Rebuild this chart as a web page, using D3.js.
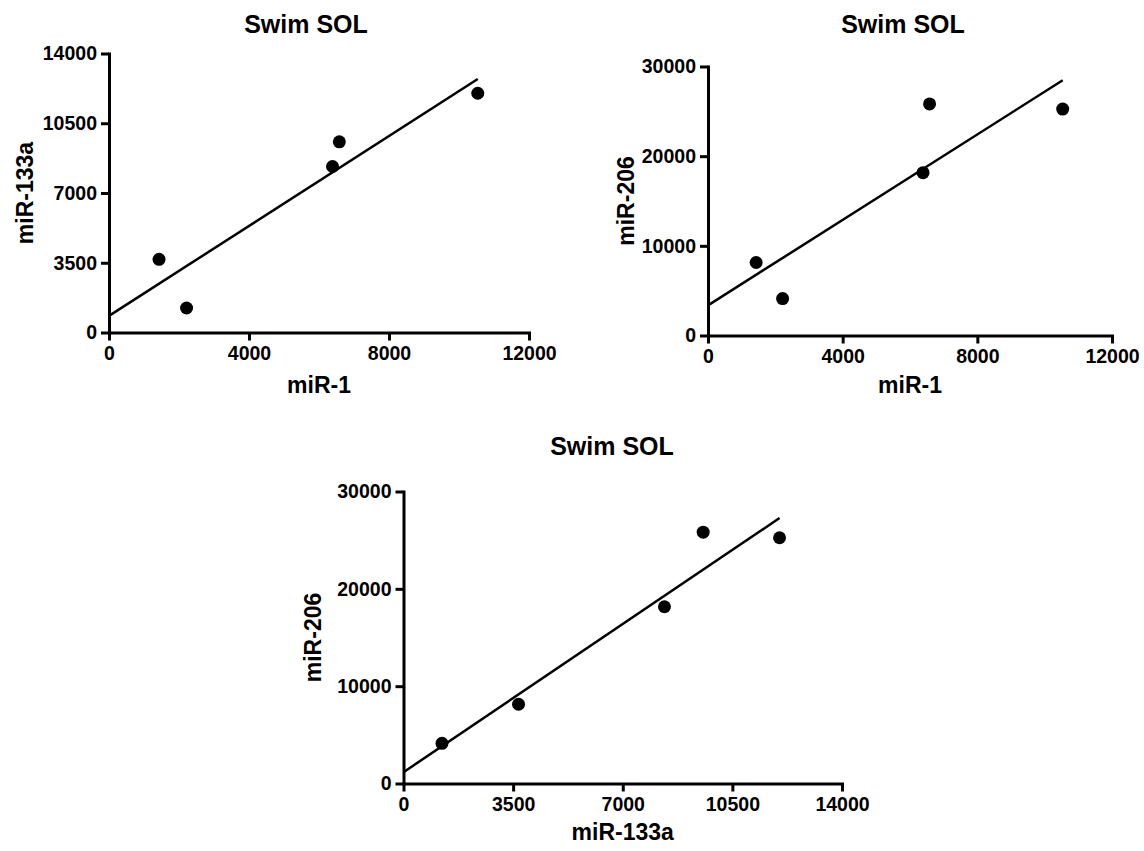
<!DOCTYPE html>
<html>
<head>
<meta charset="utf-8">
<script src="https://cdn.jsdelivr.net/npm/d3@7"></script>
<style>
  body { margin: 0; background: #fff; }
  svg { display: block; }
  text { font-family: "Liberation Sans", Arial, Helvetica, sans-serif; font-weight: bold; fill: #000; }
</style>
</head>
<body>
<div id="canvas"></div>
<script>
// Values (one entry per sample)
const mir1 = [1430, 2216, 6387, 6581, 10536];
const mir133a = [3673, 1229, 8331, 9568, 12006];
const mir206 = [8140, 4123, 18162, 25824, 25250];

const ticks1 = [0, 4000, 8000, 12000];
const ticks133a = [0, 3500, 7000, 10500, 14000];
const ticks206 = [0, 10000, 20000, 30000];

const titleText = "Swim SOL";

// Layout of each panel (pixel boxes of the axes)
const panels = [
    { x: mir1, y: mir133a, xName: "miR-1", yName: "miR-133a",
      xTicks: ticks1, yTicks: ticks133a,
      left: 109, right: 529, top: 53.5, bottom: 332.5,
      titleX: 306, titleY: 33, xLabelY: 393, yLabelX: 33 },
    { x: mir1, y: mir206, xName: "miR-1", yName: "miR-206",
      xTicks: ticks1, yTicks: ticks206,
      left: 708, right: 1112, top: 66.5, bottom: 335.5,
      titleX: 903, titleY: 33, xLabelY: 393, yLabelX: 634 },
    { x: mir133a, y: mir206, xName: "miR-133a", yName: "miR-206",
      xTicks: ticks133a, yTicks: ticks206,
      left: 403.5, right: 842, top: 491.5, bottom: 783.5,
      titleX: 612, titleY: 455, xLabelY: 840, yLabelX: 321 }
];

const svg = d3.select("#canvas")
    .append("svg")
    .attr("width", 1144)
    .attr("height", 851);

// Least squares fit
function fit(xs, ys) {
    const mx = d3.mean(xs), my = d3.mean(ys);
    const sxy = d3.sum(xs, (v, i) => (v - mx) * (ys[i] - my));
    const sxx = d3.sum(xs, v => (v - mx) * (v - mx));
    const slope = sxy / sxx;
    return { slope: slope, intercept: my - slope * mx };
}

panels.forEach(p => {
    const x = d3.scaleLinear()
        .domain(d3.extent(p.xTicks))
        .range([p.left, p.right]);
    const y = d3.scaleLinear()
        .domain(d3.extent(p.yTicks))
        .range([p.bottom, p.top]);

    // X axis
    const gx = svg.append("g")
        .attr("transform", `translate(0,${p.bottom})`)
        .call(d3.axisBottom(x).tickValues(p.xTicks).tickFormat(d3.format("d"))
            .tickSize(8).tickSizeOuter(0).tickPadding(6));
    // Y axis
    const gy = svg.append("g")
        .attr("transform", `translate(${p.left},0)`)
        .call(d3.axisLeft(y).tickValues(p.yTicks).tickFormat(d3.format("d"))
            .tickSize(8).tickSizeOuter(0).tickPadding(4));

    [gx, gy].forEach(g => {
        g.select(".domain").attr("stroke", "#000").attr("stroke-width", 3)
            .attr("stroke-linecap", "square");
        g.selectAll(".tick line").attr("stroke", "#000").attr("stroke-width", 3);
        g.selectAll(".tick text").style("font-size", "19.5px").attr("fill", "#000");
    });

    // Regression line from 0 to the largest x value
    const f = fit(p.x, p.y);
    const x0 = 0, x1 = d3.max(p.x);
    svg.append("line")
        .attr("x1", x(x0)).attr("y1", y(f.intercept + f.slope * x0))
        .attr("x2", x(x1)).attr("y2", y(f.intercept + f.slope * x1))
        .attr("stroke", "#000")
        .attr("stroke-width", 2.5);

    // Dots
    svg.append("g")
        .selectAll("circle")
        .data(p.x.map((v, i) => [v, p.y[i]]))
        .enter()
        .append("circle")
        .attr("cx", d => x(d[0]))
        .attr("cy", d => y(d[1]))
        .attr("r", 6.5)
        .attr("fill", "#000");

    // Title
    svg.append("text")
        .attr("x", p.titleX)
        .attr("y", p.titleY)
        .attr("text-anchor", "middle")
        .style("font-size", "25px")
        .text(titleText);

    // Axis labels
    svg.append("text")
        .attr("x", (p.left + p.right) / 2)
        .attr("y", p.xLabelY)
        .attr("text-anchor", "middle")
        .style("font-size", "23px")
        .text(p.xName);
    svg.append("text")
        .attr("transform", `translate(${p.yLabelX},${(p.top + p.bottom) / 2}) rotate(-90)`)
        .attr("text-anchor", "middle")
        .style("font-size", "23px")
        .text(p.yName);
});
</script>
</body>
</html>
